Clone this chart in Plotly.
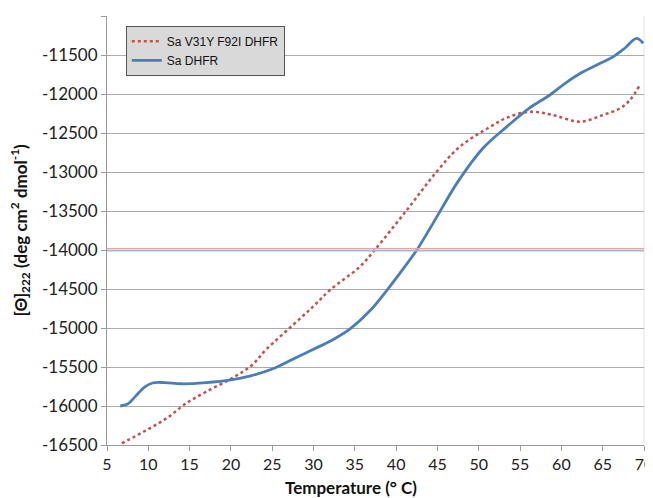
import plotly.graph_objects as go

# Data
temp_mut = [6.8, 9.8, 12.2, 14.6, 17.0, 20.1, 22.5, 24.3, 27.5, 30.0, 32.0, 35.6, 37.4, 41.3, 44.9, 47.7, 51.4, 53.5, 56.2, 59.0, 62.25, 65.0, 67.1, 68.3, 69.5]
cd_mut = [-16478, -16308, -16158, -15965, -15817, -15645, -15480, -15273, -14962, -14720, -14513, -14214, -14000, -13487, -12996, -12676, -12419, -12300, -12227, -12270, -12355, -12270, -12183, -12077, -11885]

temp_wt = [6.6, 7.5, 8.5, 9.5, 10.5, 12.0, 14.0, 17.0, 20.0, 22.5, 25.0, 27.5, 30.0, 32.5, 34.5, 37.0, 39.0, 41.0, 42.5, 44.0, 45.5, 47.5, 50.5, 53.4, 56.0, 58.6, 60.5, 62.3, 64.7, 66.3, 67.7, 69.1, 69.9]
cd_wt = [-16000, -15975, -15870, -15760, -15705, -15700, -15715, -15700, -15665, -15610, -15525, -15400, -15273, -15140, -15004, -14760, -14500, -14220, -14000, -13740, -13470, -13120, -12696, -12419, -12190, -12013, -11860, -11735, -11606, -11521, -11410, -11286, -11350]

ref_levels = [-13985, -14010]
x_ticks = list(range(5, 71, 5))
y_ticks = list(range(-16500, -10999, 500))
y_ticktext = [str(v).replace("\u2212", "-") for v in y_ticks]

fig = go.Figure()

fig.add_trace(go.Scatter(
    x=temp_mut, y=cd_mut, mode="lines", name="Sa V31Y F92I DHFR",
    line=dict(color="#c8504a", width=2.5, dash="dot", shape="spline", smoothing=1.0),
))
fig.add_trace(go.Scatter(
    x=temp_wt, y=cd_wt, mode="lines", name="Sa DHFR",
    line=dict(color="#4a7ebb", width=2.8, shape="spline", smoothing=1.0),
))

fig.add_hline(y=ref_levels[0], line=dict(color="#e6a7a3", width=1.5), layer="above")
fig.add_hline(y=ref_levels[1], line=dict(color="#9bbbe0", width=1.5), layer="above")
fig.add_shape(type="line", xref="paper", yref="paper", x0=1, x1=1, y0=0, y1=1,
              line=dict(color="#e3e3e3", width=1), layer="below")

tick_font = dict(family="Lato, 'Open Sans', sans-serif", size=16, color="#222")
title_font = dict(family="Lato, 'Open Sans', sans-serif", size=17, color="#111")

# page body has an 8px margin, so the figure is offset by 8px
fig.update_layout(
    width=648, height=490,
    margin=dict(l=99, r=12, t=8, b=53),
    paper_bgcolor="white", plot_bgcolor="white",
    showlegend=True,
    legend=dict(
        x=0.035, y=0.977, xanchor="left", yanchor="top",
        bgcolor="#d9d9d9", bordercolor="#555", borderwidth=1,
        font=dict(family="Liberation Sans, Arial, sans-serif", size=12, color="#111"),
        tracegroupgap=0, itemwidth=30,
    ),
    xaxis=dict(
        range=[5, 70], tickmode="array", tickvals=x_ticks,
        showgrid=False, zeroline=False, automargin=False,
        showline=True, linecolor="#9a9a9a", linewidth=1,
        ticks="outside", ticklen=5, tickcolor="#9a9a9a",
        tickfont=tick_font, ticklabeloverflow="allow",
    ),
    yaxis=dict(
        range=[-16500, -11000], tickmode="array", tickvals=y_ticks, ticktext=y_ticktext,
        showgrid=True, gridcolor="#ababab", gridwidth=1, zeroline=False, automargin=False,
        showline=True, linecolor="#9a9a9a", linewidth=1,
        ticks="outside", ticklen=5, tickcolor="#9a9a9a",
        tickfont=dict(family="Lato, 'Open Sans', sans-serif", size=17, color="#222"),
    ),
)

fig.add_annotation(
    text="<b>Temperature (° C)</b>", xref="paper", yref="paper",
    x=0.454, y=-0.100, xanchor="center", yanchor="middle",
    showarrow=False, font=title_font,
)
fig.add_annotation(
    text="<b>[Θ]<sub>222</sub> (deg cm<sup>2</sup> dmol<sup>-1</sup>)</b>",
    xref="paper", yref="paper", x=-0.162, y=0.5, xanchor="center", yanchor="middle",
    textangle=-90, showarrow=False, font=title_font,
)

fig.write_html("out.html")
